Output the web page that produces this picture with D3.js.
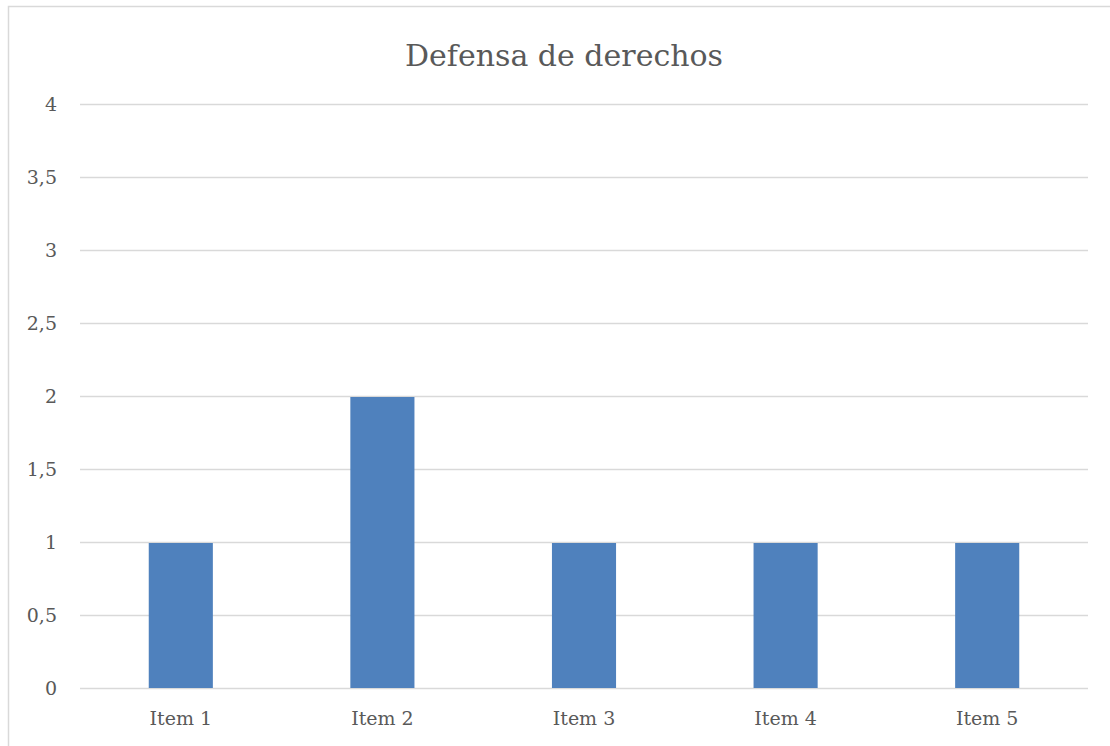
<!DOCTYPE html>
<html>
<head>
<meta charset="utf-8">
<script src="https://cdn.jsdelivr.net/npm/d3@7"></script>
<style>
  body { margin: 0; background: #fff; }
  svg text { font-family: "DejaVu Serif", "Liberation Serif", serif; fill: #595959; }
</style>
</head>
<body>
<svg id="chart" width="1110" height="746"></svg>
<script>
// values
var categories = ["Item 1", "Item 2", "Item 3", "Item 4", "Item 5"];
var values = [1, 2, 1, 1, 1];
var yTicks = [0, 0.5, 1, 1.5, 2, 2.5, 3, 3.5, 4];
var title = "Defensa de derechos";

var svg = d3.select("#chart");

// chart area border (clipped by the page on right/bottom)
svg.append("rect")
  .attr("x", 8.5).attr("y", 6.5)
  .attr("width", 1200).attr("height", 800)
  .attr("fill", "none")
  .attr("stroke", "#d9d9d9")
  .attr("stroke-width", 1.5);

var plotLeft = 80, plotRight = 1088, plotTop = 104, plotBottom = 688;

var x = d3.scaleBand().domain(categories).range([plotLeft, plotRight]).paddingInner(0.682).paddingOuter(0.341);
var y = d3.scaleLinear().domain([0, 4]).range([plotBottom, plotTop]);

// gridlines
svg.append("g")
  .selectAll("line")
  .data(yTicks)
  .enter().append("line")
  .attr("x1", plotLeft).attr("x2", plotRight)
  .attr("y1", d => Math.round(y(d)) + 0.5)
  .attr("y2", d => Math.round(y(d)) + 0.5)
  .attr("stroke", "#d9d9d9")
  .attr("stroke-width", 1.5);

// bars
svg.append("g")
  .selectAll("rect")
  .data(values)
  .enter().append("rect")
  .attr("x", (d, i) => x(categories[i]))
  .attr("width", x.bandwidth())
  .attr("y", d => y(d) + 1)
  .attr("height", d => y(0) - y(d) - 1)
  .attr("fill", "#4f81bd");

// y labels
var fmt = d => String(d).replace(".", ",");
svg.append("g")
  .selectAll("text")
  .data(yTicks)
  .enter().append("text")
  .attr("x", 57)
  .attr("y", d => y(d))
  .attr("dy", "0.35em")
  .attr("text-anchor", "end")
  .style("font-size", "19px")
  .text(fmt);

// x labels
svg.append("g")
  .selectAll("text")
  .data(categories)
  .enter().append("text")
  .attr("x", d => x(d) + x.bandwidth() / 2)
  .attr("y", 725)
  .attr("text-anchor", "middle")
  .style("font-size", "19px")
  .text(d => d);

svg.append("text")
  .attr("x", 564)
  .attr("y", 66)
  .attr("text-anchor", "middle")
  .style("font-size", "30px")
  .text(title);
</script>
</body>
</html>
